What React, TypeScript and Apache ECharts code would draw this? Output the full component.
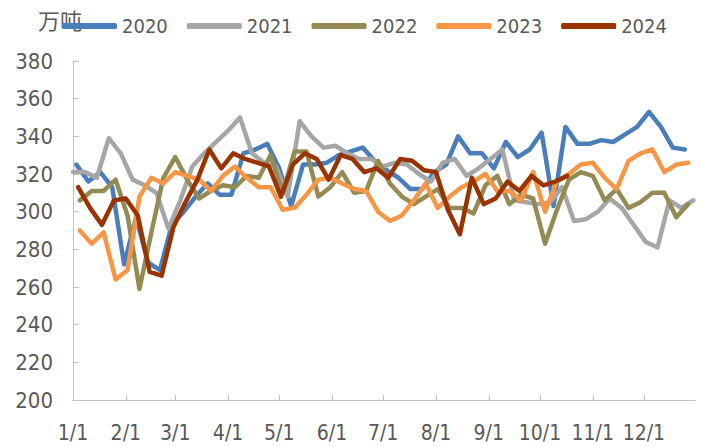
import React, { useEffect, useRef } from "react";
import * as echarts from "echarts";

// x axis: day-of-year (0 = 1/1), month-start tick labels
const tickLabels = ["1/1", "2/1", "3/1", "4/1", "5/1", "6/1", "7/1", "8/1", "9/1", "10/1", "11/1", "12/1"];
const tickDays = [0, 31, 60, 91, 121, 152, 182, 213, 244, 274, 305, 335];

const years = ["2020", "2021", "2022", "2023", "2024"];
const colors = ["#4A7EBB", "#A6A6A6", "#948A54", "#F79646", "#993300"];
// day-of-year of the first weekly observation of each year
const startDays = [2, 0, 4, 4, 3];

// weekly values, 万吨
const v2020 = [325, 316, 321, 313, 272, 297, 273, 269, 293, 300, 308, 315, 309, 309, 331, 333, 336, 323, 303, 325, 325, 326, 330, 332, 334, 327, 322, 318, 312, 312, 321, 325, 340, 331, 331, 323, 337, 329, 333, 342, 303, 345, 336, 336, 338, 337, 341, 345, 353, 345, 334, 333];
const v2021 = [321, 321, 318, 339, 331, 317, 314, 310, 291, 306, 324, 331, 337, 343, 350, 331, 326, 324, 308, 348, 340, 334, 335, 331, 328, 328, 324, 326, 325, 320, 316, 326, 328, 319, 323, 328, 333, 306, 305, 304, 305, 313, 295, 296, 300, 307, 302, 293, 284, 281, 306, 302, 306];
const v2022 = [306, 311, 311, 317, 298, 259, 289, 318, 329, 317, 307, 311, 314, 313, 319, 318, 330, 310, 332, 332, 308, 313, 321, 310, 311, 327, 315, 308, 304, 308, 312, 302, 302, 299, 314, 319, 304, 309, 307, 283, 301, 317, 321, 319, 306, 312, 302, 305, 310, 310, 297, 304];
const v2023 = [290, 283, 289, 264, 269, 308, 318, 315, 321, 319, 317, 311, 319, 324, 318, 313, 313, 301, 302, 309, 317, 318, 315, 312, 311, 300, 295, 298, 306, 315, 302, 308, 313, 316, 320, 311, 311, 306, 321, 300, 316, 320, 325, 326, 318, 312, 327, 331, 333, 321, 325, 326];
const v2024 = [313, 302, 293, 306, 307, 298, 268, 266, 292, 305, 317, 333, 323, 331, 328, 326, 324, 308, 325, 331, 328, 317, 330, 328, 321, 323, 318, 328, 327, 322, 321, 301, 288, 318, 304, 307, 316, 311, 319, 314, 316, 319];
const seriesValues = [v2020, v2021, v2022, v2023, v2024];

const yTicks = [200, 220, 240, 260, 280, 300, 320, 340, 360, 380];
const unitLabel = "万吨";

const FONT = "'Liberation Sans Narrow', 'DejaVu Sans Condensed', 'Liberation Sans', sans-serif";
const TEXT_COLOR = "#595959";

export default function App() {
  const ref = useRef<HTMLDivElement>(null);
  useEffect(() => {
    if (!ref.current) return;
    const chart = echarts.init(ref.current, null, { renderer: "svg" });
    chart.setOption({
      animation: false,
      backgroundColor: "#ffffff",
      grid: { left: 73, right: 7, top: 61, bottom: 47, containLabel: false },
      legend: {
        data: years,
        left: 57,
        top: 11,
        icon: "roundRect",
        itemWidth: 55,
        itemHeight: 6,
        itemGap: 19,
        textStyle: { fontFamily: FONT, fontSize: 20, color: TEXT_COLOR },
      },
      graphic: [
        {
          type: "text",
          left: 38,
          top: 8,
          z: 0,
          style: {
            text: unitLabel,
            font: "22px 'Noto Sans CJK SC', sans-serif",
            fill: TEXT_COLOR,
          },
        },
      ],
      xAxis: {
        type: "value",
        min: 0,
        max: 365,
        splitLine: { show: false },
        axisLine: { show: true, lineStyle: { color: "#BFBFBF", width: 1 } },
        axisTick: { show: true, inside: true, length: 5, customValues: tickDays, lineStyle: { color: "#BFBFBF" } },
        axisLabel: {
          customValues: tickDays,
          formatter: (v: number) => {
            const i = tickDays.indexOf(v);
            return i >= 0 ? tickLabels[i] : "";
          },
          fontFamily: FONT,
          fontSize: 21,
          color: TEXT_COLOR,
          margin: 22,
        },
      },
      yAxis: {
        type: "value",
        min: yTicks[0],
        max: yTicks[yTicks.length - 1],
        interval: 20,
        splitLine: { show: false },
        axisLine: { show: true, lineStyle: { color: "#BFBFBF", width: 1 } },
        axisTick: { show: true, inside: true, length: 6, lineStyle: { color: "#BFBFBF" } },
        axisLabel: { fontFamily: FONT, fontSize: 22, color: TEXT_COLOR, margin: 20 },
      },
      series: years.map((name, si) => ({
        name,
        type: "line",
        showSymbol: false,
        symbol: "none",
        color: colors[si],
        lineStyle: { width: 4.5, color: colors[si], cap: "round", join: "round" },
        data: seriesValues[si].map((v, i) => [startDays[si] + 7 * i, v]),
        z: 2 + si,
      })),
    });
    return () => chart.dispose();
  }, []);
  return <div ref={ref} style={{ position: "fixed", left: 0, top: 0, width: 702, height: 447 }} />;
}
